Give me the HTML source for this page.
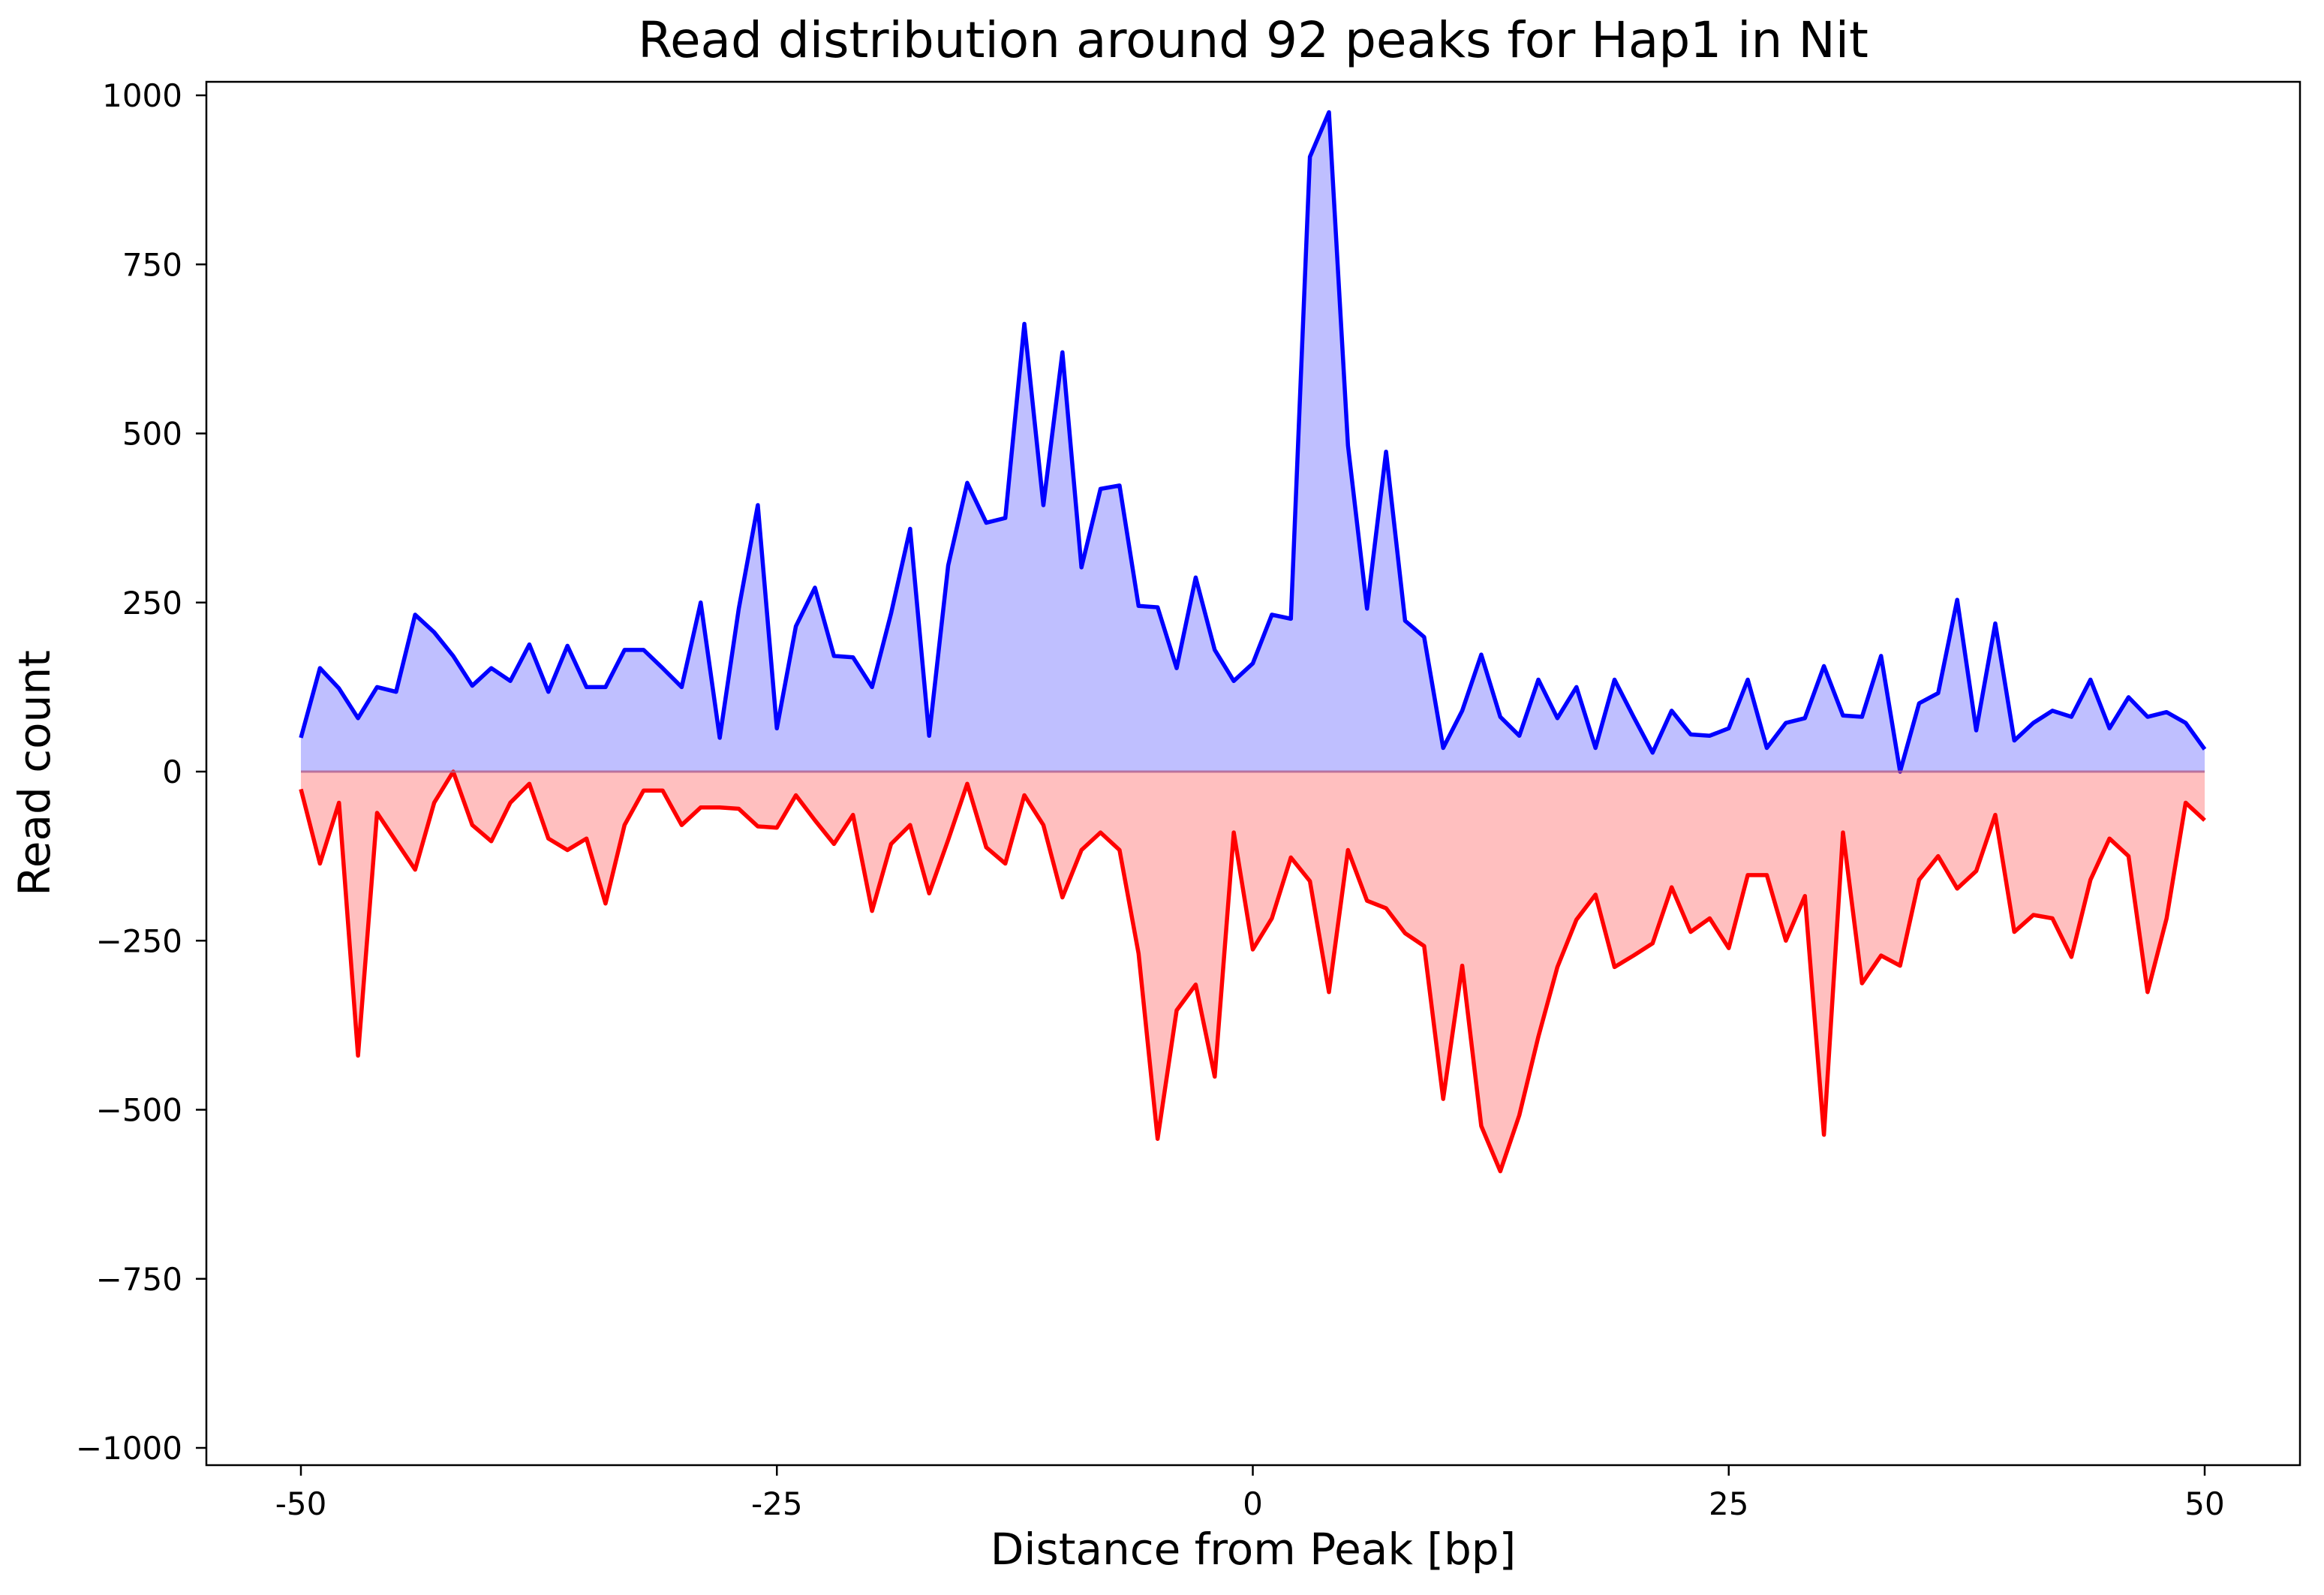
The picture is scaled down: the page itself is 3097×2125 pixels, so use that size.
<!DOCTYPE html>
<html><head><meta charset="utf-8"><style>
html,body{margin:0;padding:0;background:#fff;}
svg{display:block;font-family:"DejaVu Sans","Liberation Sans",sans-serif;}
</style></head><body>
<svg id="chart" width="3097" height="2125" viewBox="0 0 3097 2125" xmlns="http://www.w3.org/2000/svg">
<rect width="3097" height="2125" fill="#fff"/>
<text x="1670" y="76" font-size="66" text-anchor="middle">Read distribution around 92 peaks for Hap1 in Nit</text>
<g id="plot"></g>
<rect x="275" y="109" width="2790" height="1843" fill="none" stroke="#000" stroke-width="2.5"/>
<text x="1670" y="2084" font-size="58" text-anchor="middle">Distance from Peak [bp]</text>
<text transform="translate(66,1030) rotate(-90)" font-size="58" text-anchor="middle">Read count</text>
</svg>
<script>
const positions = [];
for (let i = -50; i <= 50; i++) positions.push(i);
const forwardCounts = [50,153,123,79,125,118,232,206,171,127,153,134,188,118,186,125,125,180,180,153,125,250,50,241,394,64,215,272,171,169,125,234,359,53,305,427,368,375,662,394,620,302,418,423,245,243,153,287,180,134,160,232,226,909,975,482,241,473,223,199,35,90,173,81,53,136,79,125,35,136,81,28,90,55,53,64,136,35,72,79,156,83,81,171,0,101,116,254,61,219,46,72,90,81,136,64,110,81,88,72,33];
const reverseCounts = [-26,-136,-46,-420,-61,-103,-145,-46,0,-79,-103,-46,-18,-99,-116,-99,-195,-79,-28,-28,-79,-53,-53,-55,-81,-83,-35,-72,-107,-64,-206,-107,-79,-180,-101,-18,-112,-136,-35,-79,-186,-116,-90,-116,-269,-543,-353,-315,-451,-90,-263,-217,-127,-162,-326,-116,-191,-202,-239,-258,-484,-287,-524,-591,-508,-392,-289,-219,-182,-289,-272,-254,-171,-237,-217,-261,-153,-153,-250,-184,-537,-90,-313,-272,-287,-160,-125,-173,-147,-64,-237,-212,-217,-274,-160,-99,-125,-326,-217,-46,-72];
const xTicks = [-50,-25,0,25,50];
const xTickLabels = ["-50","-25","0","25","50"];
const yTicks = [-1000,-750,-500,-250,0,250,500,750,1000];
const yTickLabels = ["\u22121000","\u2212750","\u2212500","\u2212250","0","250","500","750","1000"];

const NS = "http://www.w3.org/2000/svg";
const xs = v => 401 + (v + 50) * (2938 - 401) / 100;
const ys = v => 1028 - v * (1028 - 127) / 1000;
const g = document.getElementById('plot');
function mk(tag, attrs){const e=document.createElementNS(NS,tag);for(const k in attrs)e.setAttribute(k,attrs[k]);g.appendChild(e);return e;}

function series(vals, fillC, lineC, name){
  let pts = positions.map((p,i)=>xs(p)+','+ys(vals[i]));
  let area = mk('polygon',{points: pts.join(' ')+' '+xs(50)+','+ys(0)+' '+xs(-50)+','+ys(0), fill: fillC, stroke:'none'});
  
  
  let line = mk('polyline',{points: pts.join(' '), fill:'none', stroke: lineC, 'stroke-width':5.5, 'stroke-linejoin':'round'});
  
  
}
series(forwardCounts,'rgba(0,0,255,0.25)','#0000ff','forward-strand');
series(reverseCounts,'rgba(255,0,0,0.25)','#ff0000','reverse-strand');
let zl = mk('line',{x1:xs(-50),x2:xs(50),y1:ys(0),y2:ys(0),stroke:'#b0608f','stroke-width':3,opacity:0.8});



xTicks.forEach((t,i)=>{
  let tk = mk('line',{x1:xs(t),x2:xs(t),y1:1952,y2:1966,stroke:'#000','stroke-width':2.5});
  
  
  let tx = mk('text',{x:xs(t),y:2018,'font-size':42,'text-anchor':'middle'});
  tx.textContent = xTickLabels[i];
  
  
});
yTicks.forEach((t,i)=>{
  let tk = mk('line',{x1:261,x2:275,y1:ys(t),y2:ys(t),stroke:'#000','stroke-width':2.5});
  
  
  let tx = mk('text',{x:243,y:ys(t)+15,'font-size':42,'text-anchor':'end'});
  tx.textContent = yTickLabels[i];
  
  
});
</script>
</body></html>
